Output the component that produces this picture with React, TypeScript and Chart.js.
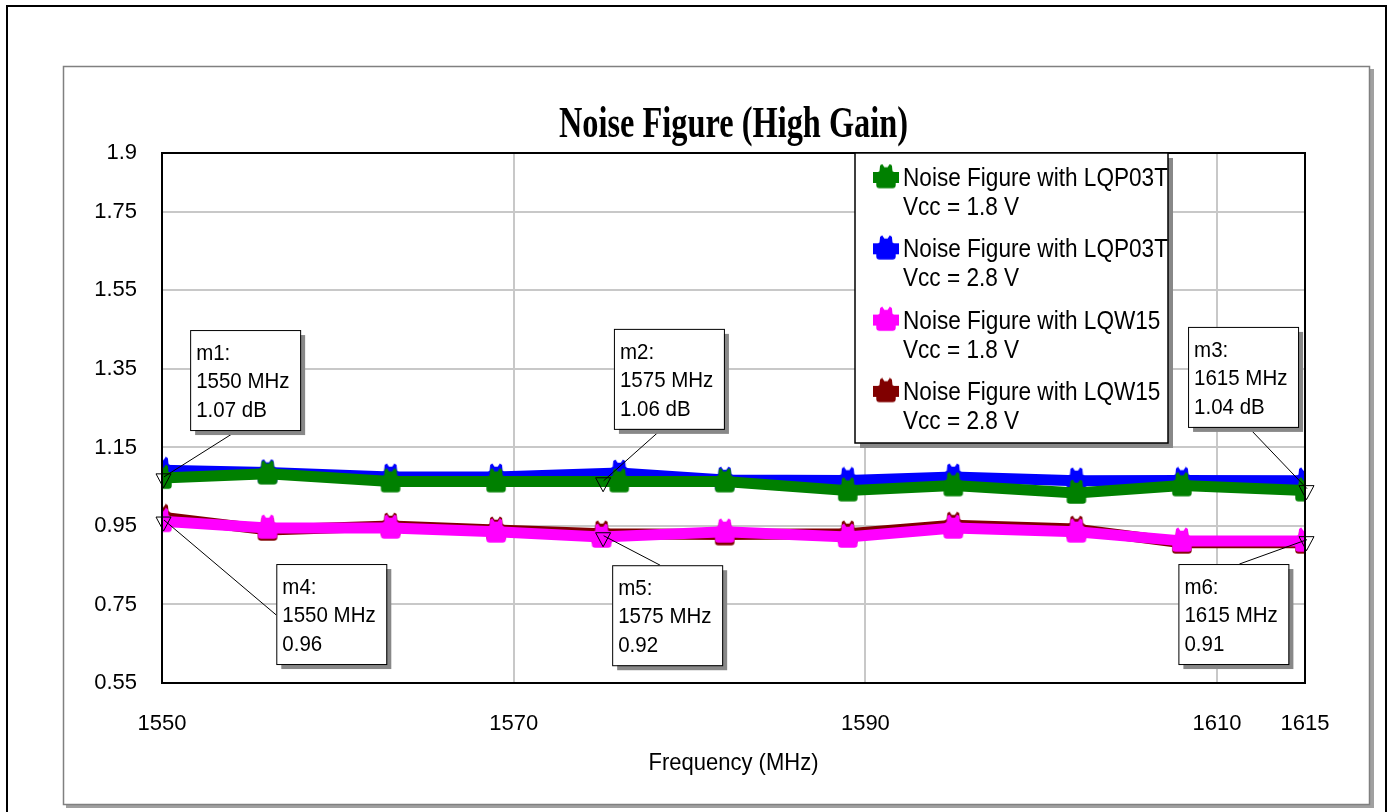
import React, { useEffect, useRef } from "react";
import { Chart, registerables } from "chart.js";
Chart.register(...registerables);

// ---------- data ----------
const freqLQP03T = [1550, 1556, 1563, 1569, 1576, 1582, 1589, 1595, 1602, 1608, 1615];
const freqLQW15 = [1550, 1556, 1563, 1569, 1575, 1582, 1589, 1595, 1602, 1608, 1615];
const nfLQP03T_18 = [1.072, 1.083, 1.063, 1.063, 1.063, 1.063, 1.04, 1.053, 1.034, 1.053, 1.04];
const nfLQP03T_28 = [1.092, 1.086, 1.075, 1.075, 1.085, 1.067, 1.066, 1.075, 1.065, 1.066, 1.065];
const nfLQW15_18 = [0.962, 0.945, 0.945, 0.935, 0.922, 0.935, 0.922, 0.945, 0.935, 0.912, 0.912];
const nfLQW15_28 = [0.972, 0.94, 0.95, 0.94, 0.93, 0.928, 0.93, 0.952, 0.942, 0.907, 0.907];

const seriesLine1 = [
  "Noise Figure with LQP03T",
  "Noise Figure with LQP03T",
  "Noise Figure with LQW15",
  "Noise Figure with LQW15",
];
const seriesLine2 = ["Vcc = 1.8 V", "Vcc = 2.8 V", "Vcc = 1.8 V", "Vcc = 2.8 V"];
const seriesColors = ["#008000", "#0000ff", "#ff00ff", "#800000"];

const xTicks = [1550, 1570, 1590, 1610, 1615];
const yTicks = [0.55, 0.75, 0.95, 1.15, 1.35, 1.55, 1.75, 1.9];

const titleText = "Noise Figure (High Gain)";
const xTitleText = "Frequency (MHz)";

// markers
const markerNames = ["m1", "m2", "m3", "m4", "m5", "m6"];
const markerFreqs = [1550, 1575, 1615, 1550, 1575, 1615];
const markerValues = [1.07, 1.06, 1.04, 0.96, 0.92, 0.91];
const markerUnits = [" dB", " dB", " dB", "", "", ""];
const markerBoxFreqs = [1551.6, 1575.7, 1608.35, 1556.5, 1575.6, 1607.8];
const markerBoxValues = [1.449, 1.452, 1.457, 0.853, 0.85, 0.853];
const markerAttach = ["bottom", "bottom", "bottom", "left", "top", "top"];
const markerAttachOffset = [48, 48, 60, 51, 48, 61];

// ---------- helpers ----------
function makeMarker(color: string): HTMLCanvasElement {
  const c = document.createElement("canvas");
  c.width = 22;
  c.height = 28;
  const g = c.getContext("2d")!;
  g.translate(11, 14);
  g.scale(1.08, 1.08);
  g.fillStyle = color;
  g.beginPath();
  g.moveTo(-9, 7);
  g.lineTo(-9, -3);
  g.lineTo(-6, -6);
  g.lineTo(-5.5, -11);
  g.lineTo(-3.5, -12.5);
  g.lineTo(-1.5, -9.5);
  g.lineTo(1.5, -9.5);
  g.lineTo(3.5, -12.5);
  g.lineTo(5.5, -11);
  g.lineTo(6, -6);
  g.lineTo(9, -3);
  g.lineTo(9, 7);
  g.quadraticCurveTo(9, 10, 6, 10);
  g.lineTo(-6, 10);
  g.quadraticCurveTo(-9, 10, -9, 7);
  g.closePath();
  g.fill();
  return c;
}

function stretchText(ctx: CanvasRenderingContext2D, text: string, x: number, y: number, sy: number) {
  ctx.save();
  ctx.translate(x, y);
  ctx.scale(1, sy);
  ctx.fillText(text, 0, 0);
  ctx.restore();
}

const SANS = '"Liberation Sans", Arial, sans-serif';

export default function App() {
  const ref = useRef<HTMLCanvasElement | null>(null);

  useEffect(() => {
    if (!ref.current) return;
    const markers = seriesColors.map((c) => makeMarker(c));
    const xsets = [freqLQP03T, freqLQP03T, freqLQW15, freqLQW15];
    const ysets = [nfLQP03T_18, nfLQP03T_28, nfLQW15_18, nfLQW15_28];

    const decor = {
      id: "decor",
      beforeDraw(chart: any) {
        const ctx: CanvasRenderingContext2D = chart.ctx;
        ctx.save();
        ctx.fillStyle = "#ffffff";
        ctx.fillRect(0, 0, chart.width, chart.height);
        // outer frame
        ctx.strokeStyle = "#000";
        ctx.lineWidth = 2;
        ctx.strokeRect(7, 6, 1379, 830);
        // panel shadow + border
        ctx.fillStyle = "#a0a0a0";
        ctx.fillRect(1370, 69, 4, 739);
        ctx.fillRect(66, 805, 1308, 3);
        ctx.strokeStyle = "#808080";
        ctx.lineWidth = 1.5;
        ctx.strokeRect(63.5, 66.5, 1306, 738);
        ctx.restore();
      },
      afterDraw(chart: any) {
        const ctx: CanvasRenderingContext2D = chart.ctx;
        const ca = chart.chartArea;
        const xs = chart.scales.x;
        const ys = chart.scales.y;
        ctx.save();
        // plot border
        ctx.strokeStyle = "#000";
        ctx.lineWidth = 2;
        ctx.strokeRect(ca.left, ca.top, ca.right - ca.left, ca.bottom - ca.top);

        // title
        ctx.fillStyle = "#000";
        ctx.font = 'bold 44px "Liberation Serif", "Times New Roman", serif';
        ctx.textAlign = "left";
        ctx.textBaseline = "alphabetic";
        const tw = ctx.measureText(titleText).width;
        const sx = 349 / tw;
        ctx.save();
        ctx.translate((ca.left + ca.right) / 2 - 349 / 2, 137);
        ctx.scale(sx, 1);
        ctx.fillText(titleText, 0, 0);
        ctx.restore();

        // x title
        ctx.font = "22px " + SANS;
        ctx.textAlign = "center";
        stretchText(ctx, xTitleText, (ca.left + ca.right) / 2, 770, 1.12);

        // markers (triangles + leader lines + boxes)
        for (let i = 0; i < markerNames.length; i++) {
          const px = xs.getPixelForValue(markerFreqs[i]);
          const py = ys.getPixelForValue(markerValues[i]);
          const bx = xs.getPixelForValue(markerBoxFreqs[i]);
          const by = ys.getPixelForValue(markerBoxValues[i]);
          const bw = 110;
          const bh = 100;
          let lx = bx, ly = by;
          if (markerAttach[i] === "bottom") { lx = bx + markerAttachOffset[i]; ly = by + bh; }
          else if (markerAttach[i] === "top") { lx = bx + markerAttachOffset[i]; ly = by; }
          else if (markerAttach[i] === "left") { lx = bx; ly = by + markerAttachOffset[i]; }
          ctx.strokeStyle = "#000";
          ctx.lineWidth = 1;
          ctx.beginPath();
          ctx.moveTo(lx, ly);
          ctx.lineTo(px + 2, py - 2);
          ctx.stroke();
          ctx.beginPath();
          ctx.moveTo(px - 6, py - 5);
          ctx.lineTo(px + 9, py - 5);
          ctx.lineTo(px + 1.5, py + 9);
          ctx.closePath();
          ctx.stroke();
          ctx.fillStyle = "#888888";
          ctx.fillRect(bx + 5, by + 5, bw, bh);
          ctx.fillStyle = "#ffffff";
          ctx.fillRect(bx, by, bw, bh);
          ctx.strokeStyle = "#000";
          ctx.lineWidth = 1;
          ctx.strokeRect(bx + 0.5, by + 0.5, bw, bh);
          ctx.fillStyle = "#000";
          ctx.font = "20.5px " + SANS;
          ctx.textAlign = "left";
          stretchText(ctx, markerNames[i] + ":", bx + 6, by + 30, 1.1);
          stretchText(ctx, markerFreqs[i] + " MHz", bx + 6, by + 58, 1.1);
          stretchText(ctx, markerValues[i].toFixed(2) + markerUnits[i], bx + 6, by + 87, 1.1);
        }

        // legend
        const lgX = 855, lgY = 153, lgW = 313, lgH = 290;
        ctx.fillStyle = "#888888";
        ctx.fillRect(lgX + 5, lgY + 5, lgW, lgH);
        ctx.fillStyle = "#ffffff";
        ctx.fillRect(lgX, lgY, lgW, lgH);
        ctx.strokeStyle = "#000";
        ctx.lineWidth = 1.5;
        ctx.strokeRect(lgX, lgY, lgW, lgH);
        ctx.font = "22.6px " + SANS;
        ctx.textAlign = "left";
        for (let i = 0; i < seriesColors.length; i++) {
          const base = 186 + i * 71.3;
          const cy = base - 8.5;
          ctx.fillStyle = seriesColors[i];
          ctx.fillRect(873, cy - 5.5, 26, 11);
          ctx.drawImage(markers[i], 886 - 11, cy - 14);
          ctx.fillStyle = "#000";
          stretchText(ctx, seriesLine1[i], 903, base, 1.12);
          stretchText(ctx, seriesLine2[i], 903, base + 29, 1.12);
        }
        ctx.restore();
      },
    };

    const chart = new Chart(ref.current, {
      type: "line",
      data: {
        datasets: seriesColors.map((color, i) => ({
          label: seriesLine1[i] + " " + seriesLine2[i],
          data: xsets[i].map((f, j) => ({ x: f, y: ysets[i][j] })),
          borderColor: color,
          backgroundColor: color,
          borderWidth: 11,
          borderJoinStyle: "round" as const,
          pointStyle: markers[i],
          pointRadius: 10,
          tension: 0,
          clip: 0,
          fill: false,
        })),
      },
      options: {
        animation: false,
        responsive: false,
        devicePixelRatio: 1,
        layout: { padding: { left: 0, right: 86, top: 153, bottom: 0 } },
        plugins: {
          legend: { display: false },
          title: { display: false },
          tooltip: { enabled: false },
        },
        scales: {
          x: {
            type: "linear",
            min: 1550,
            max: 1615,
            afterBuildTicks: (scale: any) => {
              scale.ticks = xTicks.map((v) => ({ value: v }));
            },
            afterFit: (scale: any) => {
              scale.height = 129;
            },
            ticks: {
              color: "#000",
              font: { family: SANS, size: 22 },
              padding: 28,
              maxRotation: 0,
              autoSkip: false,
              callback: (v: any) => String(v),
            },
            grid: {
              drawTicks: false,
              lineWidth: 2,
              color: (c: any) =>
                c.tick && (c.tick.value === 1550 || c.tick.value === 1615) ? "rgba(0,0,0,0)" : "#c8c8c8",
            },
            border: { display: false },
          },
          y: {
            type: "linear",
            min: 0.55,
            max: 1.9,
            afterBuildTicks: (scale: any) => {
              scale.ticks = yTicks.map((v) => ({ value: v }));
            },
            afterFit: (scale: any) => {
              scale.width = 162;
            },
            ticks: {
              color: "#000",
              font: { family: SANS, size: 22 },
              padding: 25,
              autoSkip: false,
              callback: (v: any) => String(v),
            },
            grid: {
              drawTicks: false,
              lineWidth: 2,
              color: "#c8c8c8",
            },
            border: { display: false },
          },
        },
      },
      plugins: [decor],
    });
    return () => chart.destroy();
  }, []);

  return (
    <div style={{ position: "fixed", left: 0, top: 0, width: 1391, height: 812, background: "#fff" }}>
      <canvas ref={ref} width={1391} height={812} style={{ display: "block" }} />
    </div>
  );
}
